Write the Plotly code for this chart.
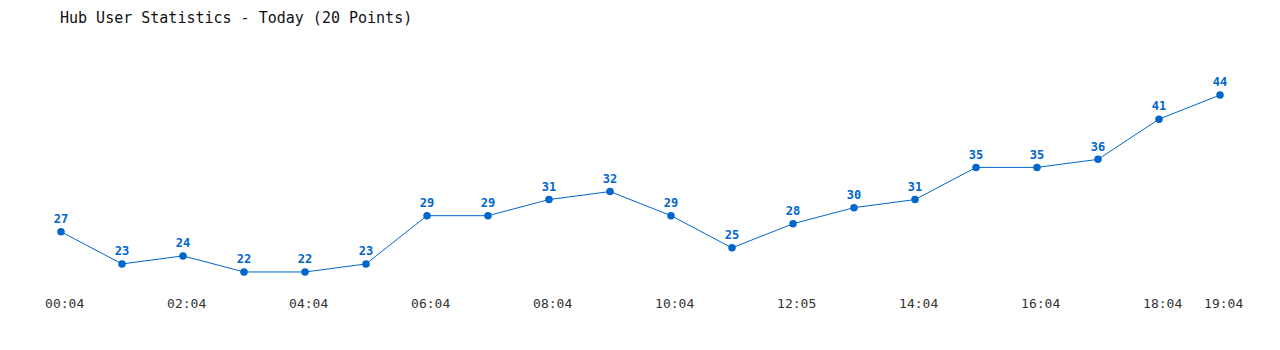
import plotly.graph_objects as go

times = ["00:04", "01:04", "02:04", "03:04", "04:04", "05:04", "06:04", "07:04",
         "08:04", "09:04", "10:04", "11:04", "12:05", "13:04", "14:04", "15:04",
         "16:04", "17:04", "18:04", "19:04"]
users = [27, 23, 24, 22, 22, 23, 29, 29, 31, 32, 29, 25, 28, 30, 31, 35, 35, 36, 41, 44]
tick_idx = [0, 2, 4, 6, 8, 10, 12, 14, 16, 18, 19]

xs = list(range(len(users)))
blue = "#0066cc"

fig = go.Figure(go.Scatter(
    x=xs, y=users, mode="lines+markers+text",
    line=dict(color=blue, width=1),
    marker=dict(color=blue, size=7.5),
    text=[f"<b>{v}</b>" for v in users],
    textposition="top center",
    textfont=dict(family="DejaVu Sans Mono", size=12, color=blue),
    cliponaxis=False,
    hoverinfo="skip",
))

fig.update_layout(
    width=1280, height=350,
    margin=dict(l=0, r=0, t=40, b=60),
    paper_bgcolor="white", plot_bgcolor="white",
    showlegend=False,
    title=dict(text="Hub User Statistics - Today (20 Points)",
               x=60/1280, xanchor="left", y=1-18/350, yanchor="middle",
               font=dict(family="DejaVu Sans Mono", size=15, color="#111111")),
    xaxis=dict(range=[-1, (1280 - 61) / 61], showgrid=False, zeroline=False,
               showline=False, tickmode="array",
               tickvals=[xs[i] + 0.06 for i in tick_idx],
               ticktext=[times[i] for i in tick_idx],
               tickfont=dict(family="DejaVu Sans Mono", size=13, color="#333333"),
               ticks="", ticklabelstandoff=4),
    yaxis=dict(range=[19.76, 50.84], visible=False, showgrid=False, zeroline=False),
)

fig.write_html("out.html")
